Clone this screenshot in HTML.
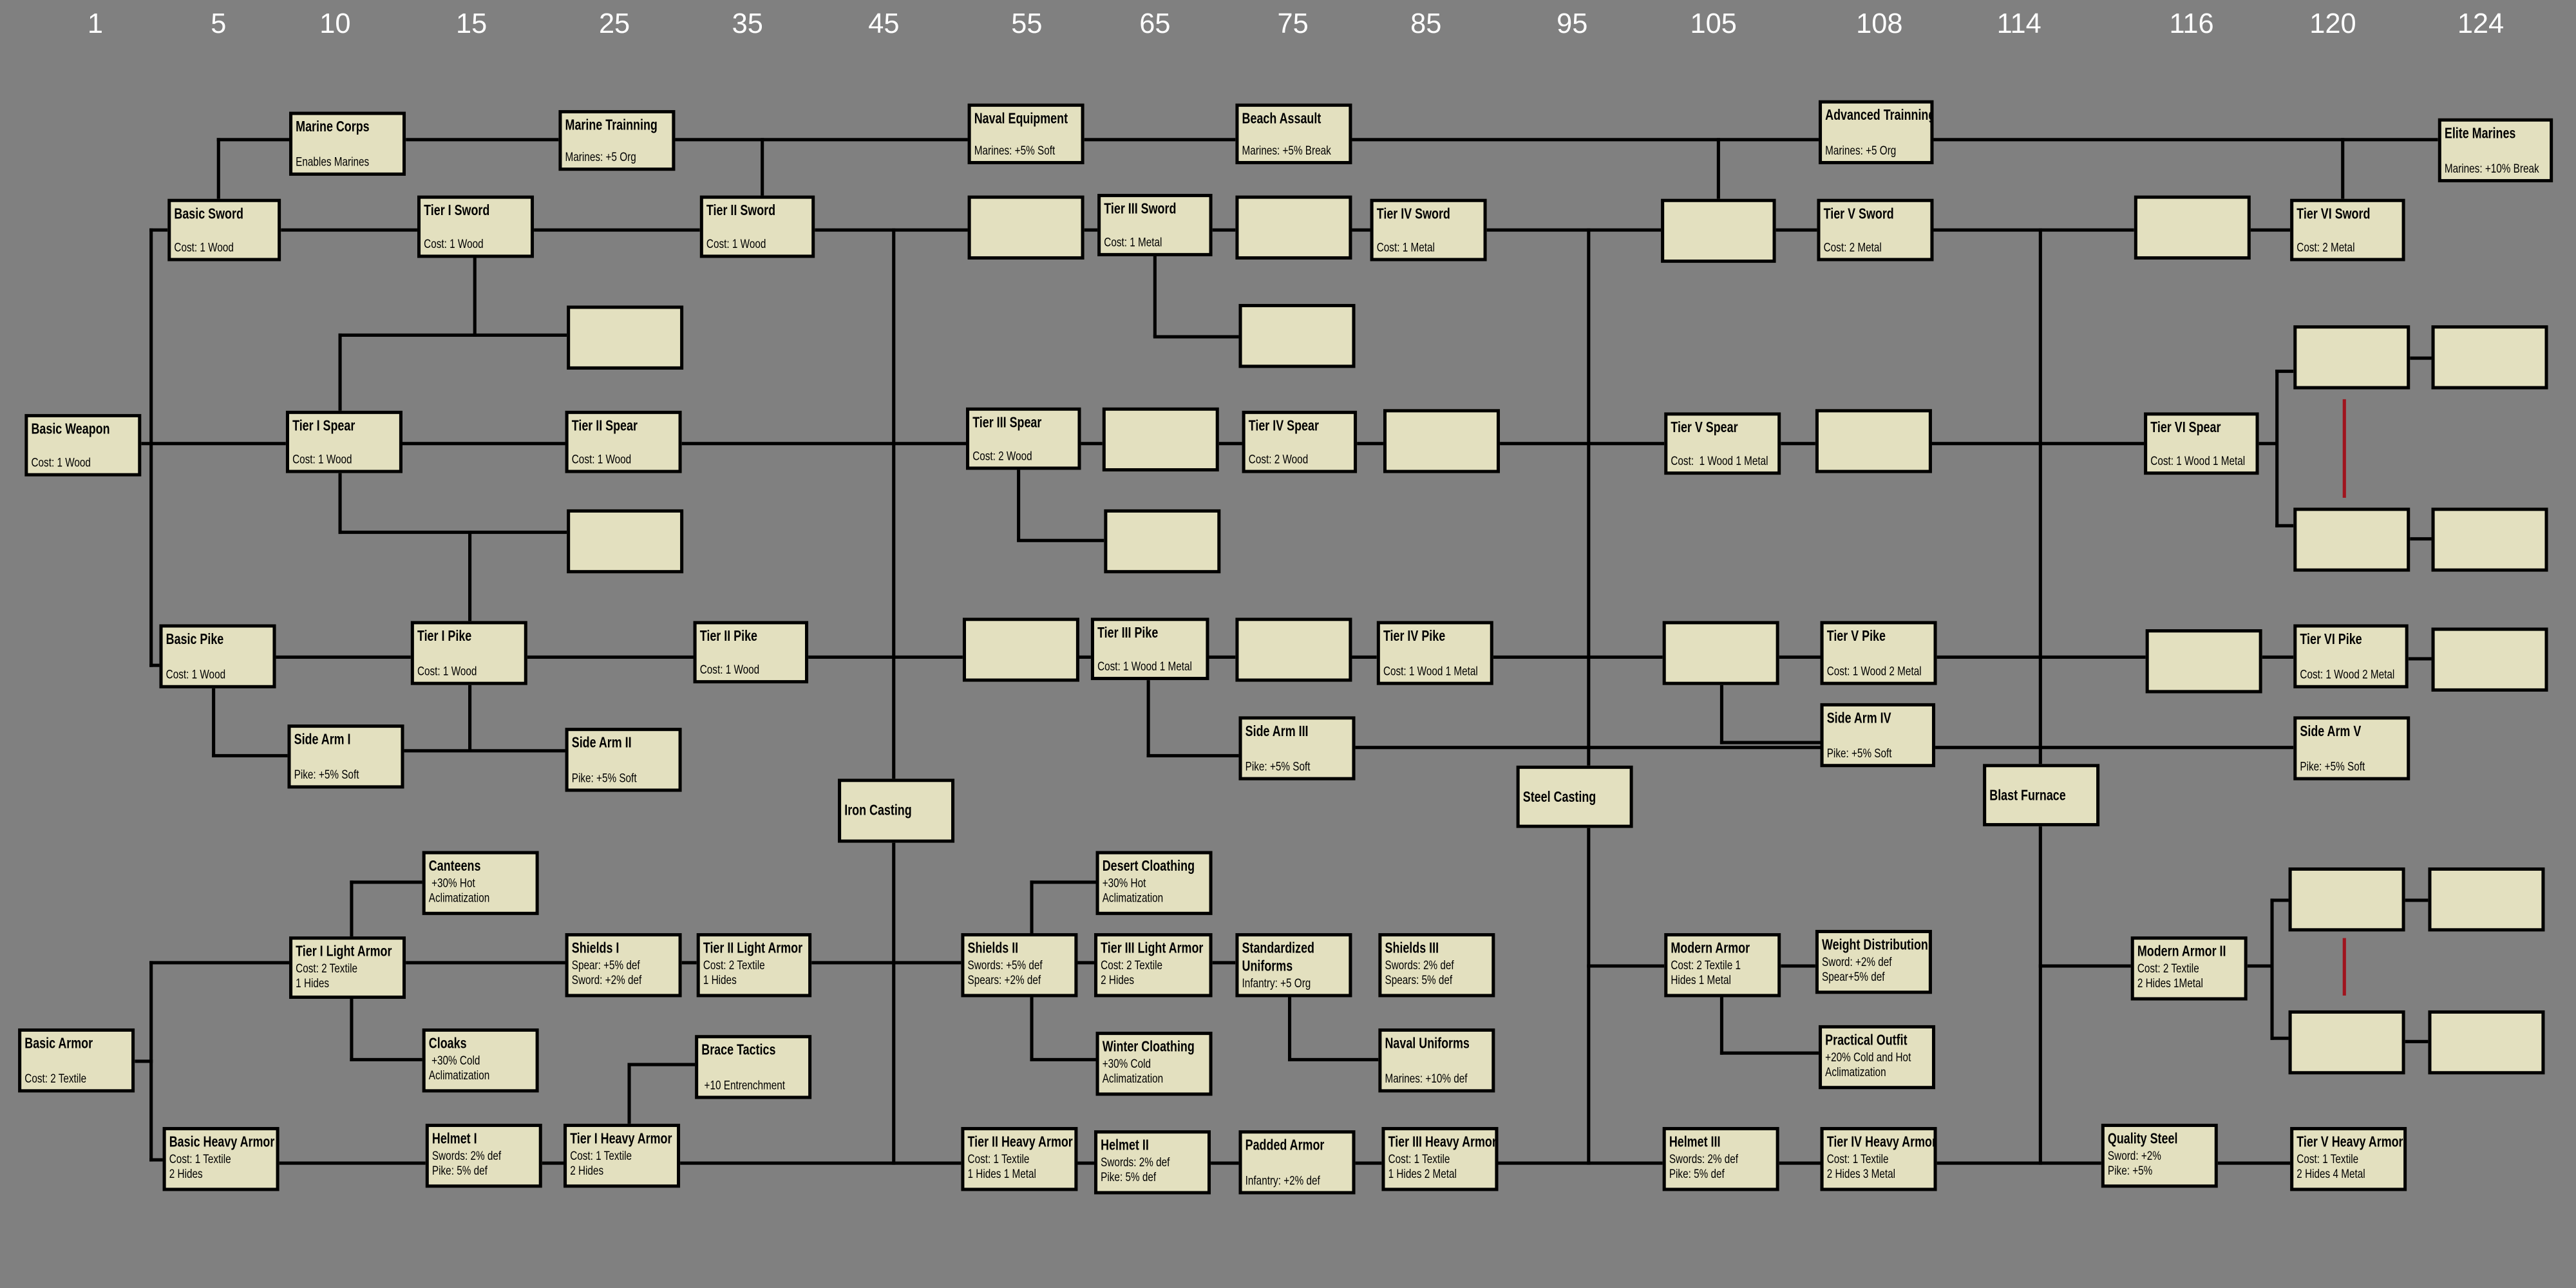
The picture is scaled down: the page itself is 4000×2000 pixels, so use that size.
<!DOCTYPE html>
<html><head><meta charset="utf-8"><style>
html,body{margin:0;padding:0;background:#808080;overflow:hidden}
#w{position:absolute;left:0;top:0;width:1568px;height:784px;transform:scale(2.551);transform-origin:0 0;background:#808080;font-family:"Liberation Sans",sans-serif}
.n{position:absolute;top:5px;color:#fff;font-family:"Liberation Sans",sans-serif;font-size:17px;transform:translateX(-50%)}
.b{position:absolute;width:71px;height:39px;background:#e3e0bf;border:2px solid #000;box-sizing:border-box;padding:2px 2px;display:flex;flex-direction:column;justify-content:space-between;color:#000;overflow:hidden;white-space:nowrap}
.b.s{justify-content:flex-start}
.t{font-weight:bold;font-size:9px;line-height:11px;transform:scaleX(.78);transform-origin:0 0;width:128%}
.d{font-size:7.5px;line-height:9px;transform:scaleX(.8);transform-origin:0 0;width:125%}
.l{position:absolute;background:#000}
.r{position:absolute;background:#a0141e;width:2px}
</style></head><body><div id="w">
<div class="n" style="left:58px">1</div><div class="n" style="left:133px">5</div><div class="n" style="left:204px">10</div><div class="n" style="left:287px">15</div><div class="n" style="left:374px">25</div><div class="n" style="left:455px">35</div><div class="n" style="left:538px">45</div><div class="n" style="left:625px">55</div><div class="n" style="left:703px">65</div><div class="n" style="left:787px">75</div><div class="n" style="left:868px">85</div><div class="n" style="left:957px">95</div><div class="n" style="left:1043px">105</div><div class="n" style="left:1144px">108</div><div class="n" style="left:1229px">114</div><div class="n" style="left:1334px">116</div><div class="n" style="left:1420px">120</div><div class="n" style="left:1510px">124</div>

<!-- lines -->
<div class="l" style="left:247px;top:84px;width:1237px;height:2px"></div>
<div class="l" style="left:132px;top:84px;width:46px;height:2px"></div>
<div class="l" style="left:132px;top:84px;width:2px;height:38px"></div>
<div class="l" style="left:463px;top:84px;width:2px;height:36px"></div>
<div class="l" style="left:1045px;top:84px;width:2px;height:38px"></div>
<div class="l" style="left:1425px;top:84px;width:2px;height:38px"></div>
<div class="l" style="left:91px;top:139px;width:1304px;height:2px"></div>
<div class="l" style="left:702px;top:155px;width:2px;height:50px"></div>
<div class="l" style="left:702px;top:204px;width:53px;height:2px"></div>
<div class="l" style="left:288px;top:155px;width:2px;height:50px"></div>
<div class="l" style="left:206px;top:203px;width:140px;height:2px"></div>
<div class="l" style="left:206px;top:203px;width:2px;height:48px"></div>
<div class="l" style="left:91px;top:139px;width:2px;height:267px"></div>
<div class="l" style="left:86px;top:269px;width:1220px;height:2px"></div>
<div class="l" style="left:206px;top:286px;width:2px;height:39px"></div>
<div class="l" style="left:206px;top:323px;width:140px;height:2px"></div>
<div class="l" style="left:285px;top:323px;width:2px;height:56px"></div>
<div class="l" style="left:619px;top:285px;width:2px;height:44px"></div>
<div class="l" style="left:619px;top:328px;width:54px;height:2px"></div>
<div class="l" style="left:1374px;top:269px;width:12px;height:2px"></div>
<div class="l" style="left:1385px;top:225px;width:2px;height:96px"></div>
<div class="l" style="left:1385px;top:225px;width:12px;height:2px"></div>
<div class="l" style="left:1385px;top:319px;width:12px;height:2px"></div>
<div class="l" style="left:1466px;top:217px;width:15px;height:2px"></div>
<div class="l" style="left:1466px;top:327px;width:15px;height:2px"></div>
<div class="l" style="left:91px;top:404px;width:8px;height:2px"></div>
<div class="l" style="left:166px;top:399px;width:1140px;height:2px"></div>
<div class="l" style="left:1374px;top:399px;width:24px;height:2px"></div>
<div class="l" style="left:1464px;top:400px;width:17px;height:2px"></div>
<div class="l" style="left:129px;top:417px;width:2px;height:44px"></div>
<div class="l" style="left:129px;top:459px;width:47px;height:2px"></div>
<div class="l" style="left:285px;top:415px;width:2px;height:42px"></div>
<div class="l" style="left:244px;top:456px;width:101px;height:2px"></div>
<div class="l" style="left:698px;top:412px;width:2px;height:49px"></div>
<div class="l" style="left:698px;top:459px;width:57px;height:2px"></div>
<div class="l" style="left:824px;top:454px;width:574px;height:2px"></div>
<div class="l" style="left:1047px;top:415px;width:2px;height:38px"></div>
<div class="l" style="left:1047px;top:451px;width:62px;height:2px"></div>
<div class="l" style="left:543px;top:139px;width:2px;height:570px"></div>
<div class="l" style="left:966px;top:139px;width:2px;height:570px"></div>
<div class="l" style="left:1241px;top:139px;width:2px;height:570px"></div>
<div class="l" style="left:82px;top:645px;width:11px;height:2px"></div>
<div class="l" style="left:91px;top:585px;width:2px;height:122px"></div>
<div class="l" style="left:91px;top:585px;width:661px;height:2px"></div>
<div class="l" style="left:91px;top:705px;width:9px;height:2px"></div>
<div class="l" style="left:213px;top:536px;width:2px;height:110px"></div>
<div class="l" style="left:213px;top:536px;width:45px;height:2px"></div>
<div class="l" style="left:213px;top:644px;width:45px;height:2px"></div>
<div class="l" style="left:627px;top:536px;width:2px;height:110px"></div>
<div class="l" style="left:627px;top:536px;width:41px;height:2px"></div>
<div class="l" style="left:627px;top:644px;width:41px;height:2px"></div>
<div class="l" style="left:784px;top:605px;width:2px;height:41px"></div>
<div class="l" style="left:784px;top:644px;width:56px;height:2px"></div>
<div class="l" style="left:966px;top:587px;width:140px;height:2px"></div>
<div class="l" style="left:1047px;top:605px;width:2px;height:37px"></div>
<div class="l" style="left:1047px;top:640px;width:61px;height:2px"></div>
<div class="l" style="left:1241px;top:587px;width:57px;height:2px"></div>
<div class="l" style="left:1366px;top:587px;width:17px;height:2px"></div>
<div class="l" style="left:1382px;top:547px;width:2px;height:86px"></div>
<div class="l" style="left:1382px;top:547px;width:12px;height:2px"></div>
<div class="l" style="left:1382px;top:631px;width:12px;height:2px"></div>
<div class="l" style="left:1462px;top:547px;width:17px;height:2px"></div>
<div class="l" style="left:1462px;top:633px;width:17px;height:2px"></div>
<div class="l" style="left:168px;top:707px;width:1227px;height:2px"></div>
<div class="l" style="left:382px;top:647px;width:2px;height:38px"></div>
<div class="l" style="left:382px;top:647px;width:42px;height:2px"></div>
<div class="r" style="left:1426px;top:243px;height:60px"></div>
<div class="r" style="left:1426px;top:571px;height:35px"></div>

<!-- marines -->
<div class="b" style="left:176px;top:68px"><div class="t">Marine Corps</div><div class="d">Enables Marines</div></div>
<div class="b" style="left:340px;top:67px;height:37px"><div class="t">Marine Trainning</div><div class="d">Marines: +5 Org</div></div>
<div class="b" style="left:589px;top:63px;height:37px"><div class="t">Naval Equipment</div><div class="d">Marines: +5% Soft</div></div>
<div class="b" style="left:752px;top:63px;height:37px"><div class="t">Beach Assault</div><div class="d">Marines: +5% Break</div></div>
<div class="b" style="left:1107px;top:61px;width:70px"><div class="t">Advanced Trainning</div><div class="d">Marines: +5 Org</div></div>
<div class="b" style="left:1484px;top:72px;width:70px"><div class="t">Elite Marines</div><div class="d">Marines: +10% Break</div></div>

<!-- swords -->
<div class="b" style="left:102px;top:121px;width:69px;height:38px"><div class="t">Basic Sword</div><div class="d">Cost: 1 Wood</div></div>
<div class="b" style="left:254px;top:119px;height:38px"><div class="t">Tier I Sword</div><div class="d">Cost: 1 Wood</div></div>
<div class="b" style="left:426px;top:119px;width:70px;height:38px"><div class="t">Tier II Sword</div><div class="d">Cost: 1 Wood</div></div>
<div class="b" style="left:589px;top:119px"></div>
<div class="b" style="left:668px;top:118px;width:70px;height:38px"><div class="t">Tier III Sword</div><div class="d">Cost: 1 Metal</div></div>
<div class="b" style="left:752px;top:119px"></div>
<div class="b" style="left:834px;top:121px;height:38px"><div class="t">Tier IV Sword</div><div class="d">Cost: 1 Metal</div></div>
<div class="b" style="left:1011px;top:121px;width:70px"></div>
<div class="b" style="left:1106px;top:121px;height:38px"><div class="t">Tier V Sword</div><div class="d">Cost: 2 Metal</div></div>
<div class="b" style="left:1299px;top:119px"></div>
<div class="b" style="left:1394px;top:121px;width:70px;height:38px"><div class="t">Tier VI Sword</div><div class="d">Cost: 2 Metal</div></div>
<div class="b" style="left:754px;top:185px"></div>
<div class="b" style="left:345px;top:186px"></div>
<div class="b" style="left:345px;top:310px"></div>

<!-- spears -->
<div class="b" style="left:15px;top:252px;height:38px"><div class="t">Basic Weapon</div><div class="d">Cost: 1 Wood</div></div>
<div class="b" style="left:174px;top:250px;height:38px"><div class="t">Tier I Spear</div><div class="d">Cost: 1 Wood</div></div>
<div class="b" style="left:344px;top:250px;height:38px"><div class="t">Tier II Spear</div><div class="d">Cost: 1 Wood</div></div>
<div class="b" style="left:588px;top:248px;width:70px;height:38px"><div class="t">Tier III Spear</div><div class="d">Cost: 2 Wood</div></div>
<div class="b" style="left:671px;top:248px"></div>
<div class="b" style="left:756px;top:250px;width:70px;height:38px"><div class="t">Tier IV Spear</div><div class="d">Cost: 2 Wood</div></div>
<div class="b" style="left:842px;top:249px"></div>
<div class="b" style="left:1013px;top:251px;height:38px"><div class="t">Tier V Spear</div><div class="d">Cost:&nbsp; 1 Wood 1 Metal</div></div>
<div class="b" style="left:1105px;top:249px"></div>
<div class="b" style="left:1305px;top:251px;width:70px;height:38px"><div class="t">Tier VI Spear</div><div class="d">Cost: 1 Wood 1 Metal</div></div>
<div class="b" style="left:672px;top:310px"></div>
<div class="b" style="left:1396px;top:198px"></div>
<div class="b" style="left:1480px;top:198px"></div>
<div class="b" style="left:1396px;top:309px"></div>
<div class="b" style="left:1480px;top:309px"></div>

<!-- pikes -->
<div class="b" style="left:97px;top:380px"><div class="t">Basic Pike</div><div class="d">Cost: 1 Wood</div></div>
<div class="b" style="left:250px;top:378px"><div class="t">Tier I Pike</div><div class="d">Cost: 1 Wood</div></div>
<div class="b" style="left:422px;top:378px;width:70px;height:38px"><div class="t">Tier II Pike</div><div class="d">Cost: 1 Wood</div></div>
<div class="b" style="left:586px;top:376px"></div>
<div class="b" style="left:664px;top:376px;width:72px;height:38px"><div class="t">Tier III Pike</div><div class="d">Cost: 1 Wood 1 Metal</div></div>
<div class="b" style="left:752px;top:376px"></div>
<div class="b" style="left:838px;top:378px"><div class="t">Tier IV Pike</div><div class="d">Cost: 1 Wood 1 Metal</div></div>
<div class="b" style="left:1012px;top:378px"></div>
<div class="b" style="left:1108px;top:378px"><div class="t">Tier V Pike</div><div class="d">Cost: 1 Wood 2 Metal</div></div>
<div class="b" style="left:1306px;top:383px"></div>
<div class="b" style="left:1396px;top:380px;width:70px"><div class="t">Tier VI Pike</div><div class="d">Cost: 1 Wood 2 Metal</div></div>
<div class="b" style="left:1480px;top:382px"></div>

<div class="b" style="left:175px;top:441px"><div class="t">Side Arm I</div><div class="d">Pike: +5% Soft</div></div>
<div class="b" style="left:344px;top:443px"><div class="t">Side Arm II</div><div class="d">Pike: +5% Soft</div></div>
<div class="b" style="left:754px;top:436px"><div class="t">Side Arm III</div><div class="d">Pike: +5% Soft</div></div>
<div class="b" style="left:1108px;top:428px;width:70px"><div class="t">Side Arm IV</div><div class="d">Pike: +5% Soft</div></div>
<div class="b" style="left:1396px;top:436px"><div class="t">Side Arm V</div><div class="d">Pike: +5% Soft</div></div>

<div class="b" style="left:510px;top:474px;justify-content:center"><div class="t">Iron Casting</div></div>
<div class="b" style="left:923px;top:466px;height:38px;justify-content:center"><div class="t">Steel Casting</div></div>
<div class="b" style="left:1207px;top:465px;height:38px;justify-content:center"><div class="t">Blast Furnace</div></div>

<!-- armor -->
<div class="b s" style="left:257px;top:518px"><div class="t">Canteens</div><div class="d">&nbsp;+30% Hot<br>Aclimatization</div></div>
<div class="b s" style="left:176px;top:570px;height:38px"><div class="t">Tier I Light Armor</div><div class="d">Cost: 2 Textile<br>1 Hides</div></div>
<div class="b s" style="left:344px;top:568px"><div class="t">Shields I</div><div class="d">Spear: +5% def<br>Sword: +2% def</div></div>
<div class="b s" style="left:424px;top:568px;width:70px"><div class="t">Tier II Light Armor</div><div class="d">Cost: 2 Textile<br>1 Hides</div></div>
<div class="b s" style="left:257px;top:626px"><div class="t">Cloaks</div><div class="d">&nbsp;+30% Cold<br>Aclimatization</div></div>
<div class="b" style="left:11px;top:626px"><div class="t">Basic Armor</div><div class="d">Cost: 2 Textile</div></div>
<div class="b" style="left:423px;top:630px"><div class="t">Brace Tactics</div><div class="d">&nbsp;+10 Entrenchment</div></div>
<div class="b s" style="left:99px;top:686px"><div class="t">Basic Heavy Armor</div><div class="d">Cost: 1 Textile<br>2 Hides</div></div>
<div class="b s" style="left:259px;top:684px"><div class="t">Helmet I</div><div class="d">Swords: 2% def<br>Pike: 5% def</div></div>
<div class="b s" style="left:343px;top:684px"><div class="t">Tier I Heavy Armor</div><div class="d">Cost: 1 Textile<br>2 Hides</div></div>
<div class="b s" style="left:667px;top:518px"><div class="t">Desert Cloathing</div><div class="d">+30% Hot<br>Aclimatization</div></div>
<div class="b s" style="left:585px;top:568px"><div class="t">Shields II</div><div class="d">Swords: +5% def<br>Spears: +2% def</div></div>
<div class="b s" style="left:666px;top:568px;width:72px"><div class="t">Tier III Light Armor</div><div class="d">Cost: 2 Textile<br>2 Hides</div></div>
<div class="b s" style="left:752px;top:568px"><div class="t">Standardized<br>Uniforms</div><div class="d">Infantry: +5 Org</div></div>
<div class="b s" style="left:839px;top:568px"><div class="t">Shields III</div><div class="d">Swords: 2% def<br>Spears: 5% def</div></div>
<div class="b s" style="left:667px;top:628px"><div class="t">Winter Cloathing</div><div class="d">+30% Cold<br>Aclimatization</div></div>
<div class="b" style="left:839px;top:626px"><div class="t">Naval Uniforms</div><div class="d">Marines: +10% def</div></div>
<div class="b s" style="left:585px;top:686px"><div class="t">Tier II Heavy Armor</div><div class="d">Cost: 1 Textile<br>1 Hides 1 Metal</div></div>
<div class="b s" style="left:666px;top:688px"><div class="t">Helmet II</div><div class="d">Swords: 2% def<br>Pike: 5% def</div></div>
<div class="b" style="left:754px;top:688px"><div class="t">Padded Armor</div><div class="d">Infantry: +2% def</div></div>
<div class="b s" style="left:841px;top:686px"><div class="t">Tier III Heavy Armor</div><div class="d">Cost: 1 Textile<br>1 Hides 2 Metal</div></div>
<div class="b s" style="left:1013px;top:568px"><div class="t">Modern Armor</div><div class="d">Cost: 2 Textile 1<br>Hides 1 Metal</div></div>
<div class="b s" style="left:1105px;top:566px"><div class="t">Weight Distribution</div><div class="d">Sword: +2% def<br>Spear+5% def</div></div>
<div class="b s" style="left:1107px;top:624px"><div class="t">Practical Outfit</div><div class="d">+20% Cold and Hot<br>Aclimatization</div></div>
<div class="b s" style="left:1012px;top:686px"><div class="t">Helmet III</div><div class="d">Swords: 2% def<br>Pike: 5% def</div></div>
<div class="b s" style="left:1108px;top:686px"><div class="t">Tier IV Heavy Armor</div><div class="d">Cost: 1 Textile<br>2 Hides 3 Metal</div></div>
<div class="b s" style="left:1297px;top:570px"><div class="t">Modern Armor II</div><div class="d">Cost: 2 Textile<br>2 Hides 1Metal</div></div>
<div class="b s" style="left:1279px;top:684px"><div class="t">Quality Steel</div><div class="d">Sword: +2%<br>Pike: +5%</div></div>
<div class="b s" style="left:1394px;top:686px"><div class="t">Tier V Heavy Armor</div><div class="d">Cost: 1 Textile<br>2 Hides 4 Metal</div></div>
<div class="b" style="left:1393px;top:528px"></div>
<div class="b" style="left:1478px;top:528px"></div>
<div class="b" style="left:1393px;top:615px"></div>
<div class="b" style="left:1478px;top:615px"></div>
</div></body></html>
